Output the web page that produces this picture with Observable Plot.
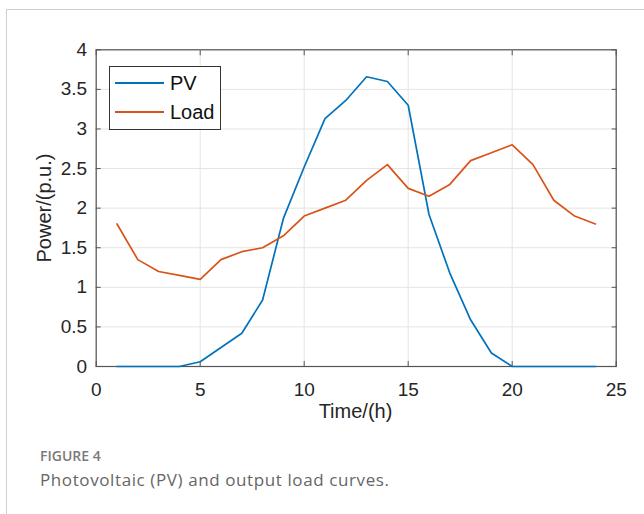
<!DOCTYPE html>
<html>
<head>
<meta charset="utf-8">
<script src="https://cdn.jsdelivr.net/npm/d3@7"></script>
<script src="https://cdn.jsdelivr.net/npm/@observablehq/plot@0.6"></script>
<style>
  html, body { margin: 0; padding: 0; background: #fff; }
  #wrap { position: relative; width: 644px; height: 514px; overflow: hidden; background: #fff; }
  #border { position: absolute; left: 6px; top: 9px; width: 700px; height: 600px; border-left: 1px solid #cfcfcf; border-top: 1px solid #cfcfcf; }
  #chart { position: absolute; left: 0; top: 0; }
  .lbl { position: absolute; font-family: "Liberation Sans", Arial, sans-serif; font-size: 20px; color: #262626; line-height: 20px; white-space: nowrap; }
  #xlabel { left: 0; width: 711px; text-align: center; top: 401px; }
  #ylabel { left: 44px; top: 208px; transform: translate(-50%, -50%) rotate(-90deg); }
  #legend { position: absolute; left: 109px; top: 66px; width: 110px; height: 62px; border: 1px solid #333; background: #fff; }
  .lg-line { position: absolute; left: 5px; width: 49px; height: 0; border-top: 2px solid; }
  .lg-text { position: absolute; left: 60px; font-family: "Liberation Sans", Arial, sans-serif; font-size: 20px; line-height: 20px; color: #111; }
  #fig { position: absolute; left: 40px; top: 449px; font-family: "Open Sans", sans-serif; font-weight: 600; font-size: 14px; line-height: 14px; color: #7a7a7a; white-space: nowrap; }
  #cap { position: absolute; left: 40px; top: 471px; font-family: "Open Sans", sans-serif; font-size: 17px; line-height: 17px; color: #666; letter-spacing: 0.6px; white-space: nowrap; }
</style>
</head>
<body>
<div id="wrap">
  <div id="border"></div>
  <div id="chart"></div>
  <div id="xlabel" class="lbl"></div>
  <div id="ylabel" class="lbl"></div>
  <div id="legend"></div>
  <div id="fig"></div>
  <div id="cap"></div>
</div>
<script>
// ---- data ----
const hours = [1,2,3,4,5,6,7,8,9,10,11,12,13,14,15,16,17,18,19,20,21,22,23,24];
const pvValues = [0,0,0,0,0.06,0.24,0.42,0.84,1.87,2.52,3.13,3.36,3.66,3.60,3.30,1.92,1.18,0.59,0.17,0,0,0,0,0];
const loadValues = [1.80,1.35,1.20,1.15,1.10,1.35,1.45,1.50,1.65,1.90,2.00,2.10,2.35,2.55,2.25,2.15,2.30,2.60,2.70,2.80,2.55,2.10,1.90,1.80];
const seriesNames = ["PV", "Load"];
const seriesColors = ["#0072BD", "#D95319"];
const xTicks = [0, 5, 10, 15, 20, 25];
const yTicks = [0, 0.5, 1, 1.5, 2, 2.5, 3, 3.5, 4];
const xLabel = "Time/(h)";
const yLabel = "Power/(p.u.)";
const figureLabel = "FIGURE 4";
const caption = "Photovoltaic (PV) and output load curves.";

const rows = [];
hours.forEach((h, i) => rows.push({hour: h, value: pvValues[i], series: seriesNames[0]}));
hours.forEach((h, i) => rows.push({hour: h, value: loadValues[i], series: seriesNames[1]}));

const gridColor = "#e4e4e4";
const axisColor = "#555";
const blank = () => "";

const chart = Plot.plot({
  width: 644,
  height: 430,
  marginLeft: 95.7,
  marginRight: 28.3,
  marginTop: 49.3,
  marginBottom: 64,
  style: {fontFamily: "'Liberation Sans', Arial, sans-serif", fontSize: "19px", color: "#262626", background: "transparent", overflow: "visible"},
  x: {domain: [0, 25]},
  y: {domain: [0, 4]},
  color: {domain: seriesNames, range: seriesColors},
  marks: [
    Plot.gridX(xTicks, {stroke: gridColor, strokeOpacity: 1}),
    Plot.gridY(yTicks, {stroke: gridColor, strokeOpacity: 1}),
    Plot.frame({stroke: axisColor, strokeWidth: 1.2}),
    Plot.axisX(xTicks, {anchor: "bottom", tickSize: -5, tickFormat: blank, label: null, stroke: axisColor}),
    Plot.axisX(xTicks, {anchor: "top", tickSize: -5, tickFormat: blank, label: null, stroke: axisColor}),
    Plot.axisY(yTicks, {anchor: "left", tickSize: -5, tickFormat: blank, label: null, stroke: axisColor}),
    Plot.axisY(yTicks, {anchor: "right", tickSize: -5, tickFormat: blank, label: null, stroke: axisColor}),
    Plot.axisX(xTicks, {anchor: "bottom", tickSize: 0, tickPadding: 15.5, tickFormat: d => String(d), label: null, fill: "#262626"}),
    Plot.axisY(yTicks, {anchor: "left", tickSize: 0, tickPadding: 9, tickFormat: d => String(d), label: null, fill: "#262626"}),
    Plot.lineY(rows, {x: "hour", y: "value", z: "series", stroke: "series", strokeWidth: 1.7})
  ]
});
document.getElementById("chart").appendChild(chart);

document.getElementById("xlabel").textContent = xLabel;
document.getElementById("ylabel").textContent = yLabel;
document.getElementById("fig").textContent = figureLabel;
document.getElementById("cap").textContent = caption;

const legend = document.getElementById("legend");
const legendTops = [16, 45];
seriesNames.forEach((name, i) => {
  const line = document.createElement("div");
  line.className = "lg-line";
  line.style.top = (legendTops[i] - 1) + "px";
  line.style.borderTopColor = seriesColors[i];
  legend.appendChild(line);
  const t = document.createElement("div");
  t.className = "lg-text";
  t.style.top = (legendTops[i] - 10) + "px";
  t.textContent = name;
  legend.appendChild(t);
});
</script>
</body>
</html>
